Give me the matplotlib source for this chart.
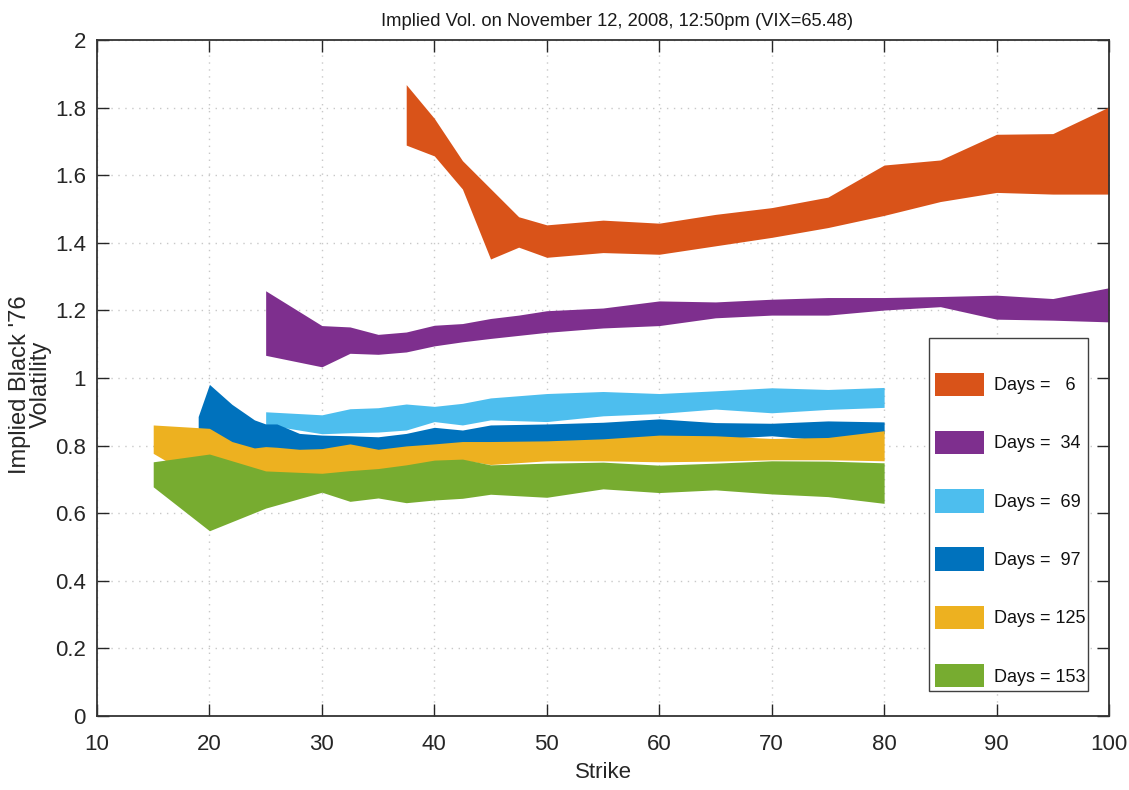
import matplotlib
matplotlib.use("Agg")
import matplotlib.pyplot as plt
from matplotlib.ticker import FuncFormatter
from matplotlib.patches import Patch, Rectangle

# Implied vol bands (low / high) per expiry
strikes_6 = [37.5, 40, 42.5, 45, 47.5, 50, 55, 60, 65, 70, 75, 80, 85, 90, 95, 100]
hi_6 = [1.868, 1.768, 1.643, 1.560, 1.477, 1.453, 1.467, 1.458, 1.484, 1.504, 1.535, 1.630, 1.645, 1.721, 1.723, 1.802]
lo_6 = [1.689, 1.657, 1.559, 1.352, 1.387, 1.357, 1.371, 1.366, 1.391, 1.416, 1.445, 1.481, 1.522, 1.549, 1.544, 1.544]

strikes_34 = [25, 30, 32.5, 35, 37.5, 40, 42.5, 45, 47.5, 50, 55, 60, 65, 70, 75, 80, 85, 90, 95, 100]
hi_34 = [1.258, 1.155, 1.151, 1.129, 1.136, 1.156, 1.161, 1.176, 1.186, 1.199, 1.207, 1.228, 1.225, 1.233, 1.238, 1.238, 1.241, 1.245, 1.235, 1.267]
lo_34 = [1.067, 1.033, 1.073, 1.070, 1.077, 1.095, 1.107, 1.117, 1.126, 1.135, 1.148, 1.155, 1.178, 1.186, 1.186, 1.201, 1.211, 1.174, 1.171, 1.166]

strikes_69 = [25, 30, 32.5, 35, 37.5, 40, 42.5, 45, 50, 55, 60, 65, 70, 75, 80]
hi_69 = [0.900, 0.891, 0.909, 0.912, 0.923, 0.916, 0.925, 0.941, 0.954, 0.960, 0.954, 0.962, 0.971, 0.966, 0.972]
lo_69 = [0.862, 0.835, 0.838, 0.840, 0.846, 0.871, 0.861, 0.876, 0.871, 0.888, 0.895, 0.908, 0.897, 0.907, 0.913]

strikes_97 = [19, 20, 22, 24, 25, 26, 28, 30, 32.5, 35, 37.5, 40, 42.5, 45, 50, 55, 60, 65, 70, 75, 80]
hi_97 = [0.886, 0.981, 0.922, 0.876, 0.864, 0.864, 0.836, 0.831, 0.829, 0.826, 0.836, 0.854, 0.846, 0.861, 0.864, 0.869, 0.879, 0.868, 0.866, 0.873, 0.870]
lo_97 = [0.851, 0.846, 0.805, 0.785, 0.788, 0.785, 0.780, 0.782, 0.795, 0.780, 0.790, 0.795, 0.802, 0.803, 0.805, 0.810, 0.822, 0.820, 0.829, 0.815, 0.835]

strikes_125 = [15, 20, 22, 24, 25, 26, 28, 30, 32.5, 35, 37.5, 40, 42.5, 45, 50, 55, 60, 65, 70, 75, 80]
hi_125 = [0.861, 0.851, 0.812, 0.793, 0.797, 0.795, 0.789, 0.791, 0.805, 0.789, 0.799, 0.805, 0.812, 0.812, 0.814, 0.820, 0.831, 0.829, 0.821, 0.824, 0.844]
lo_125 = [0.777, 0.680, 0.730, 0.720, 0.720, 0.715, 0.710, 0.710, 0.720, 0.725, 0.735, 0.750, 0.757, 0.744, 0.755, 0.755, 0.752, 0.754, 0.758, 0.758, 0.755]

strikes_153 = [15, 20, 25, 30, 32.5, 35, 37.5, 40, 42.5, 45, 50, 55, 60, 65, 70, 75, 80]
hi_153 = [0.752, 0.775, 0.725, 0.718, 0.726, 0.732, 0.743, 0.757, 0.760, 0.743, 0.748, 0.751, 0.742, 0.748, 0.755, 0.754, 0.749]
lo_153 = [0.678, 0.548, 0.615, 0.662, 0.635, 0.645, 0.631, 0.639, 0.644, 0.656, 0.647, 0.672, 0.661, 0.669, 0.657, 0.649, 0.629]

days = [6, 34, 69, 97, 125, 153]
colors = ["#D95319", "#7E2F8E", "#4DBEEE", "#0072BD", "#EDB120", "#77AC30"]

FONT = ["Liberation Sans", "DejaVu Sans"]
TXT = "#262626"

bands = [
    (strikes_6, lo_6, hi_6),
    (strikes_34, lo_34, hi_34),
    (strikes_69, lo_69, hi_69),
    (strikes_97, lo_97, hi_97),
    (strikes_125, lo_125, hi_125),
    (strikes_153, lo_153, hi_153),
]

fig = plt.figure(figsize=(11.29, 7.9), dpi=100)
ax = fig.add_axes([0.0859, 0.0937, 0.8964, 0.8557])

for (x, lo, hi), c in zip(bands, colors):
    ax.fill_between(x, lo, hi, color=c, linewidth=0, zorder=2)

ax.set_xlim(10, 100)
ax.set_ylim(0, 2)
ax.set_xticks(range(10, 101, 10))
ax.set_yticks([i * 0.2 for i in range(11)])
ax.yaxis.set_major_formatter(FuncFormatter(lambda v, p: f"{v:g}"))
ax.grid(True, linestyle=(0, (1, 4)), color="#c8c8c8", linewidth=1.0, zorder=0)
ax.tick_params(direction="in", length=8.5, width=1.0, top=True, right=True,
               colors=TXT, labelsize=16)
ax.tick_params(axis="x", pad=13)
ax.tick_params(axis="y", pad=8)
for lab in ax.get_xticklabels() + ax.get_yticklabels():
    lab.set_family(FONT)
for s in ax.spines.values():
    s.set_color("#333333")
    s.set_linewidth(1.3)

ax.set_title("Implied Vol. on November 12, 2008, 12:50pm (VIX=65.48)",
             family=FONT, fontsize=13.2, pad=10, color="#1a1a1a", x=0.514)
ax.set_xlabel("Strike", family=FONT, fontsize=16, color=TXT, labelpad=5)
ax.set_ylabel("Implied Black '76\nVolatility", family=FONT, fontsize=17,
              color=TXT, linespacing=0.95)
ax.yaxis.set_label_coords(-0.0445, 0.49)

# legend: entries without frame, box drawn separately to match the tall padding
handles = [Patch(facecolor=c, edgecolor="none") for c in colors]
labels = ["Days =   6", "Days =  34", "Days =  69", "Days =  97", "Days = 125", "Days = 153"]
leg = ax.legend(handles, labels, loc="upper left", bbox_to_anchor=(0.828, 0.508),
                prop={"family": FONT, "size": 13}, handlelength=2.71, handleheight=1.62,
                labelspacing=1.93, handletextpad=0.55, borderpad=0, borderaxespad=0,
                frameon=False)
for t in leg.get_texts():
    t.set_color("#111111")
ax.add_patch(Rectangle((0.8221, 0.0370), 0.9792 - 0.8221, 0.5592 - 0.0370,
                       transform=ax.transAxes, facecolor="white", edgecolor="#404040",
                       linewidth=1.0, zorder=4))
leg.set_zorder(5)

fig.savefig("out.png", dpi=100)
